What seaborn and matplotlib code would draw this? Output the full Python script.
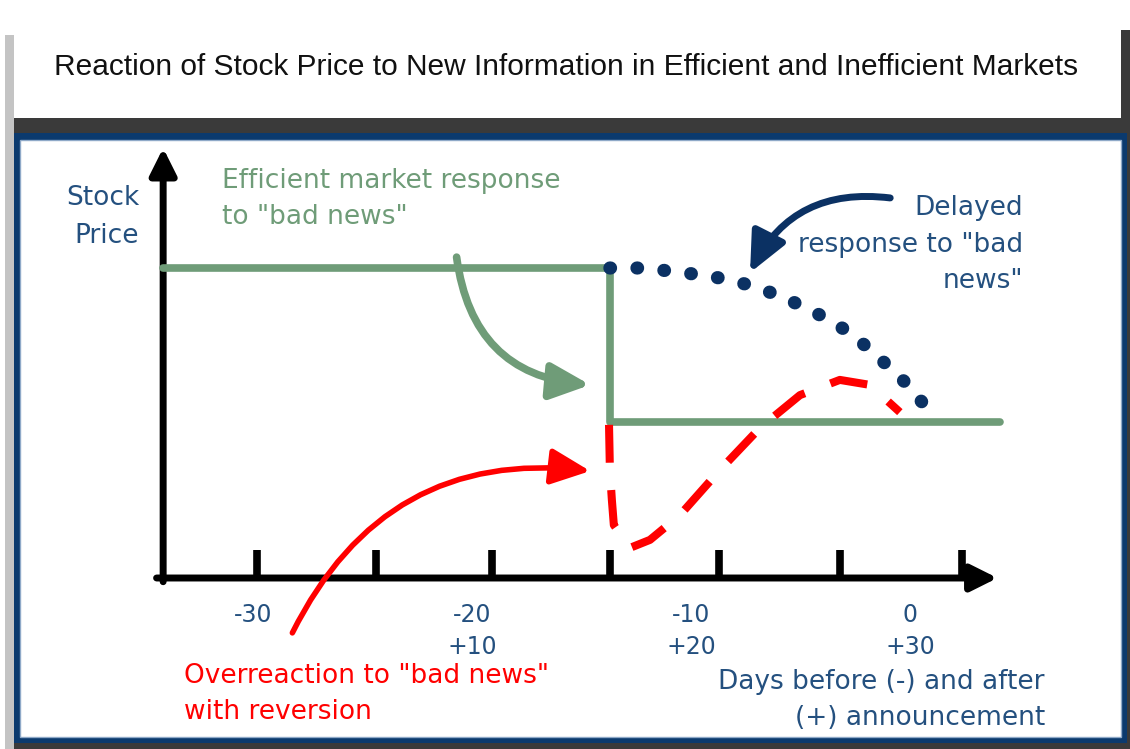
import matplotlib
matplotlib.use('Agg')
import matplotlib.pyplot as plt
import seaborn as sns
from matplotlib.patches import Rectangle

# efficient market: whole drop on announcement day
eff_days = [-34.1, -13.7, -13.7, 4.1]
eff_price = [100, 100, 50.3, 50.3]

# inefficient market, slow adjustment
delay_days = [-13.7, -12.3, -10.5, -8.7, -7.5, -5.9, -4.1, -2.7, -1.4, -0.2, 0.7]
delay_price = [100, 100, 98.7, 96.8, 94.8, 91.0, 84.8, 79.0, 71.0, 63.0, 55.5]

# overreaction, then reversion
over_days = [-13.74, -13.70, -13.61, -13.52, -12.79, -11.87, -10.50, -8.68, -6.85, -5.02, -3.20, -1.83, -0.46]
over_price = [49.4, 34.8, 25.2, 17.1, 9.7, 12.3, 20.3, 34.8, 48.4, 59.0, 63.9, 62.3, 53.5]

tick_days = [-29.8, -24.4, -19.1, -13.7, -8.7, -3.2, 2.4]
label_days = [-30, -20, -10, 0]
before_labels = ['-30', '-20', '-10', '0']
after_labels = ['', '+10', '+20', '+30']

# callout arrows: (start, tip) in days / price
green_arrow = [(-20.7, 103.5), (-14.6, 62.3)]
navy_arrow = [(-0.9, 122.6), (-7.3, 98.5)]
red_arrow = [(-28.2, -17.7), (-14.6, 34.5)]

GREEN = '#6f9c78'
NAVY = '#0b3163'
TEXT_NAVY = '#24507f'
RED = '#ff0000'
W, H = 1130, 749

sns.set_theme(style='white')
plt.rcParams['font.family'] = ['DejaVu Sans']

fig = plt.figure(figsize=(W / 100, H / 100), dpi=100)
ax = fig.add_axes([0, 0, 1, 1])
ax.set_xlim(-41.55, 10.05)
ax.set_ylim(-55.16, 186.45)
ax.axis('off')


def box(x0, y0, x1, y1, **kw):
    # pixel box (top-left origin) -> axes fraction
    ax.add_patch(Rectangle((x0 / W, 1 - y1 / H), (x1 - x0) / W, (y1 - y0) / H,
                           transform=ax.transAxes, zorder=0, **kw))


def label(px, py, s, size=19, **kw):
    ax.text(px / W, 1 - py / H, s, transform=ax.transAxes, fontsize=size, va='center', **kw)


# frame
box(5, 35, 14, 749, color='#c4c4c4', lw=0)
box(1121, 30, 1130, 749, color='#3a3a3a', lw=0)
box(14, 118, 1130, 749, color='#3a3a3a', lw=0)
box(14, 133, 1127, 743, color='#0b3a6e', lw=0)
box(20, 140, 1121, 737, facecolor='white', edgecolor='#8fa9c8', lw=1)

ax.text(566 / W, 1 - 67 / H, 'Reaction of Stock Price to New Information in Efficient and Inefficient Markets',
        transform=ax.transAxes, ha='center', va='center', fontsize=21.5, color='#111111',
        family=['Liberation Sans', 'DejaVu Sans'])

# axes with arrow heads
ax.annotate('', xy=(-34.1, 138.7), xytext=(-34.1, -1.2),
            arrowprops=dict(arrowstyle='-|>,head_length=1.6,head_width=0.8', lw=5, color='black',
                            mutation_scale=10, shrinkA=0, shrinkB=0), zorder=3)
ax.annotate('', xy=(4.0, 0), xytext=(-34.4, 0),
            arrowprops=dict(arrowstyle='-|>,head_length=1.6,head_width=0.8', lw=5, color='black',
                            mutation_scale=10, shrinkA=0, shrinkB=0), zorder=3)
ax.vlines(tick_days, 0, 9, colors='black', lw=5.5, zorder=3)

# price paths
sns.lineplot(x=eff_days, y=eff_price, sort=False, estimator=None, color=GREEN, lw=5.5, ax=ax, zorder=4)
sns.lineplot(x=delay_days, y=delay_price, sort=False, estimator=None, color=NAVY, lw=9.5,
             linestyle=(0, (0.05, 2.0)), dash_capstyle='round', ax=ax, zorder=4)
sns.lineplot(x=over_days, y=over_price, sort=False, estimator=None, color=RED, lw=5.8,
             linestyle=(0, (4.7, 3.4)), ax=ax, zorder=5)

# curved callouts
for (start, tip), col, rad, lw in [(green_arrow, GREEN, 0.4, 5.5),
                                   (navy_arrow, NAVY, 0.35, 5),
                                   (red_arrow, RED, -0.35, 4)]:
    ax.annotate('', xy=tip, xytext=start,
                arrowprops=dict(arrowstyle='-|>,head_length=2.4,head_width=1.1', lw=lw, color=col,
                                connectionstyle=f'arc3,rad={rad}', mutation_scale=10,
                                shrinkA=0, shrinkB=0), zorder=6)

# tick labels (two rows: days before / after)
for d, b, a in zip(label_days, before_labels, after_labels):
    ax.text(d, -11.9, b, ha='center', va='center', fontsize=17, color=TEXT_NAVY)
    if a:
        ax.text(d, -22.3, a, ha='center', va='center', fontsize=17, color=TEXT_NAVY)

label(139, 198, 'Stock', ha='right', color=TEXT_NAVY)
label(139, 236, 'Price', ha='right', color=TEXT_NAVY)
label(222, 181, 'Efficient market response', ha='left', color=GREEN)
label(222, 217, 'to "bad news"', ha='left', color=GREEN)
label(1023, 208, 'Delayed', ha='right', color=TEXT_NAVY)
label(1023, 245, 'response to "bad', ha='right', color=TEXT_NAVY)
label(1023, 281, 'news"', ha='right', color=TEXT_NAVY)
label(184, 676, 'Overreaction to "bad news"', ha='left', color=RED)
label(184, 712, 'with reversion', ha='left', color=RED)
label(1045, 682, 'Days before (-) and after', ha='right', color=TEXT_NAVY)
label(1045, 718, '(+) announcement', ha='right', color=TEXT_NAVY)

fig.savefig('out.png', dpi=100)
